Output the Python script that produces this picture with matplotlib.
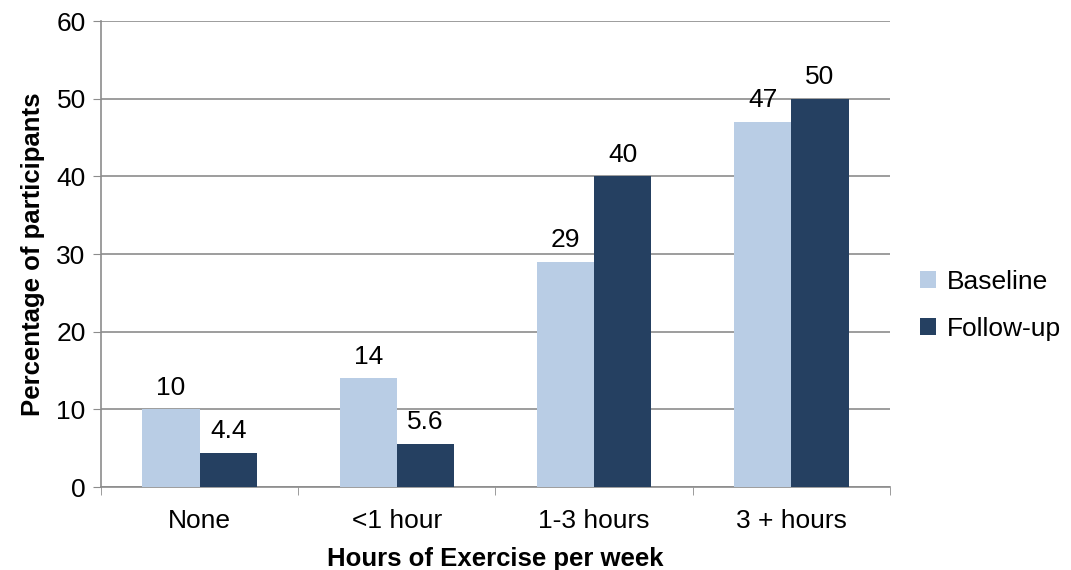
import numpy as np
import matplotlib.pyplot as plt

plt.rcParams['font.family'] = ['Liberation Sans', 'DejaVu Sans']

categories = ['None', '<1 hour', '1-3 hours', '3 + hours']
baseline = [10, 14, 29, 47]
followup = [4.4, 5.6, 40, 50]
baseline_labels = ['10', '14', '29', '47']
followup_labels = ['4.4', '5.6', '40', '50']

light = '#B9CDE5'
dark = '#254061'
grid_col = '#8C8C8C'
fs = 19

fig = plt.figure(figsize=(10.71, 5.70), dpi=100)
ax = fig.add_axes([0.0943, 0.1456, 0.7367, 0.8174])

x = np.arange(len(categories))
w = 0.29
b1 = ax.bar(x - w / 2, baseline, w, color=light, label='Baseline', zorder=3)
b2 = ax.bar(x + w / 2, followup, w, color=dark, label='Follow-up', zorder=3)

# value labels above each bar
for bars, labs in ((b1, baseline_labels), (b2, followup_labels)):
    for rect, lab in zip(bars, labs):
        ax.annotate(lab, (rect.get_x() + rect.get_width() / 2, rect.get_height()),
                    xytext=(0, 7), textcoords='offset points',
                    ha='center', va='bottom', fontsize=fs)

ax.set_xlim(-0.5, 3.5)
ax.set_ylim(0, 60)
ax.set_yticks(range(0, 61, 10))
ax.tick_params(axis='y', labelsize=fs, length=6, color=grid_col, direction='out', pad=5)
ax.yaxis.grid(True, color=grid_col, linewidth=1.2, zorder=0)
ax.set_axisbelow(True)

ax.set_xticks(x)
ax.set_xticklabels(categories, fontsize=fs)
ax.tick_params(axis='x', length=0, pad=16)
ax.set_xticks(np.arange(-0.5, 4.0, 1.0), minor=True)
ax.tick_params(axis='x', which='minor', length=6, color=grid_col, direction='out')

for side in ('top', 'right'):
    ax.spines[side].set_visible(False)
ax.spines['left'].set_color(grid_col)
ax.spines['bottom'].set_color(grid_col)
ax.spines['left'].set_linewidth(1.2)
ax.spines['bottom'].set_linewidth(1.2)

ax.set_xlabel('Hours of Exercise per week', fontsize=18.5, fontweight='bold', labelpad=10)
ax.set_ylabel('Percentage of participants', fontsize=18.5, fontweight='bold', labelpad=8)

ax.legend(loc='center left', bbox_to_anchor=(1.015, 0.39), frameon=False, fontsize=fs,
          handlelength=0.6, handleheight=0.6, handletextpad=0.4, labelspacing=0.85,
          borderaxespad=0.3)

fig.savefig('out.png', dpi=100)
